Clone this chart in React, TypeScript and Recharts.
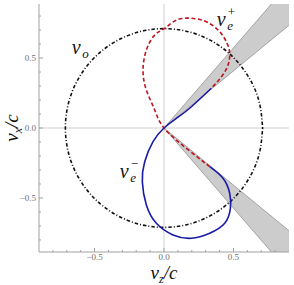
import React from "react";
import { Area, ComposedChart, ReferenceDot, ReferenceLine, Scatter, XAxis, YAxis } from "recharts";

// frame ticks (minor every 0.1, labelled majors)
const tickVals = [-0.8, -0.7, -0.6, -0.5, -0.4, -0.3, -0.2, -0.1, 0, 0.1, 0.2, 0.3, 0.4, 0.5, 0.6, 0.7, 0.8];
const majorVals = [-0.5, 0, 0.5];
const majorLabels = ["\u22120.5", "0.0", "0.5"];

// forbidden wedges: v_z and the [low, high] v_x bounds
const wedgeZ = [0, 0.9];
const upperLo = [0, 0.734];
const upperHi = [0, 1.031];
const lowerLo = [0, -1.031];
const lowerHi = [0, -0.734];

// v_o circle
const circleZ = [0.71, 0.686, 0.615, 0.502, 0.355, 0.184, 0, -0.184, -0.355, -0.502, -0.615, -0.686, -0.71, -0.686, -0.615, -0.502, -0.355, -0.184, 0, 0.184, 0.355, 0.502, 0.615, 0.686, 0.71];
const circleX = [0, 0.184, 0.355, 0.502, 0.615, 0.686, 0.71, 0.686, 0.615, 0.502, 0.355, 0.184, 0, -0.184, -0.355, -0.502, -0.615, -0.686, -0.71, -0.686, -0.615, -0.502, -0.355, -0.184, 0];

// v_e+ (red dashed)
const plusZ = [0.329, 0.161, 0, -0.067, -0.127, -0.151, -0.127, -0.067, 0.005, 0.089, 0.197, 0.305, 0.401, 0.454, 0.473, 0.461, 0.413, 0.341];
const plusX = [-0.276, -0.145, 0, 0.129, 0.271, 0.414, 0.557, 0.664, 0.712, 0.771, 0.784, 0.759, 0.688, 0.605, 0.534, 0.45, 0.366, 0.284];

// v_e- (blue solid)
const minusZ = [0.341, 0.185, 0.089, 0, -0.079, -0.139, -0.156, -0.127, -0.055, 0.065, 0.197, 0.329, 0.437, 0.478, 0.473, 0.425, 0.329];
const minusX = [0.284, 0.141, 0.069, 0, -0.098, -0.241, -0.384, -0.55, -0.681, -0.764, -0.788, -0.752, -0.681, -0.574, -0.466, -0.359, -0.276];

const FRAME = "#a0a0a0";
const TICK_FONT = "'Liberation Serif', 'Times New Roman', serif";
const MATH_FONT = "'Liberation Serif', 'Times New Roman', serif";

const wedgeData = wedgeZ.map((z, i) => ({
  x: z,
  up: [upperLo[i], upperHi[i]],
  lo: [lowerLo[i], lowerHi[i]],
}));
const pts = (zs: number[], xs: number[]) => zs.map((z, i) => ({ x: z, y: xs[i] }));

const majorIdx = (v: number) => majorVals.findIndex((m) => Math.abs(m - v) < 1e-6);

const BottomTick = (p: any) => {
  const i = majorIdx(p.payload.value);
  return (
    <g>
      <line x1={p.x} x2={p.x} y1={p.y} y2={p.y - (i >= 0 ? 4 : 2)} stroke={FRAME} />
      {i >= 0 && (
        <text x={p.x} y={p.y + 8} textAnchor="middle" fontSize={9} fill="#6f6f6f" fontFamily={TICK_FONT}>
          {majorLabels[i]}
        </text>
      )}
    </g>
  );
};
const TopTick = (p: any) => {
  const i = majorIdx(p.payload.value);
  return <line x1={p.x} x2={p.x} y1={p.y} y2={p.y + (i >= 0 ? 4 : 2)} stroke={FRAME} />;
};
const LeftTick = (p: any) => {
  const i = majorIdx(p.payload.value);
  return (
    <g>
      <line x1={p.x} x2={p.x + (i >= 0 ? 4 : 2)} y1={p.y} y2={p.y} stroke={FRAME} />
      {i >= 0 && (
        <text x={p.x - 3} y={p.y + 3} textAnchor="end" fontSize={9} fill="#6f6f6f" fontFamily={TICK_FONT}>
          {majorLabels[i]}
        </text>
      )}
    </g>
  );
};
const RightTick = (p: any) => {
  const i = majorIdx(p.payload.value);
  return <line x1={p.x} x2={p.x - (i >= 0 ? 4 : 2)} y1={p.y} y2={p.y} stroke={FRAME} />;
};

const noDot = () => <g />;

const mathLabel = (main: string, sub: string, sup?: string) => (p: any) => (
  <text x={p.cx} y={p.cy} fontFamily={MATH_FONT} fontStyle="italic" fontSize={20} fill="#111">
    {main}
    <tspan x={p.cx + 10.5} y={p.cy + 4} fontSize={13}>{sub}</tspan>
    {sup && (
      <tspan x={p.cx + 11} y={p.cy - 10} fontSize={13} fontStyle="normal">{sup}</tspan>
    )}
  </text>
);

const XLabel = (p: any) => {
  const vb = p.viewBox;
  return (
    <text x={vb.x + vb.width / 2} y={vb.y + 26.5} textAnchor="middle" fontFamily={MATH_FONT} fontStyle="italic" fontSize={19} fill="#111">
      v<tspan fontSize={12} dy={4}>z</tspan>
      <tspan dy={-4}>/c</tspan>
    </text>
  );
};
const YLabel = (p: any) => {
  const vb = p.viewBox;
  const cx = 17.5;
  const cy = vb.y + vb.height / 2;
  return (
    <text x={cx} y={cy} transform={`rotate(-90 ${cx} ${cy})`} textAnchor="middle" fontFamily={MATH_FONT} fontStyle="italic" fontSize={19} fill="#111">
      v<tspan fontSize={12} dy={4}>x</tspan>
      <tspan dy={-4}>/c</tspan>
    </text>
  );
};

export default function App() {
  return (
    <div style={{ position: "absolute", left: 0, top: 0, background: "#fff" }}>
      <ComposedChart width={294} height={285} data={wedgeData} margin={{ top: 4, right: 5, bottom: 0, left: 0 }}>
        <XAxis
          xAxisId="b"
          dataKey="x"
          type="number"
          domain={[-0.9, 0.9]}
          allowDataOverflow
          ticks={tickVals}
          interval={0}
          tickSize={0}
          tickMargin={0}
          tick={<BottomTick />}
          axisLine={{ stroke: FRAME }}
          height={33}
          label={{ content: <XLabel /> }}
        />
        <XAxis
          xAxisId="t"
          orientation="top"
          dataKey="x"
          type="number"
          domain={[-0.9, 0.9]}
          allowDataOverflow
          ticks={tickVals}
          interval={0}
          tickSize={0}
          tickMargin={0}
          tick={<TopTick />}
          axisLine={{ stroke: FRAME }}
          height={0}
        />
        <YAxis
          yAxisId="l"
          dataKey="y"
          type="number"
          domain={[-0.886, 0.886]}
          allowDataOverflow
          ticks={tickVals}
          interval={0}
          tickSize={0}
          tickMargin={0}
          tick={<LeftTick />}
          axisLine={{ stroke: FRAME }}
          width={39}
          label={{ content: <YLabel /> }}
        />
        <YAxis
          yAxisId="r"
          orientation="right"
          dataKey="y"
          type="number"
          domain={[-0.886, 0.886]}
          allowDataOverflow
          ticks={tickVals}
          interval={0}
          tickSize={0}
          tickMargin={0}
          tick={<RightTick />}
          axisLine={{ stroke: FRAME }}
          width={0}
        />
        <ReferenceLine xAxisId="b" yAxisId="l" x={0} stroke="#cfcfcf" />
        <ReferenceLine xAxisId="b" yAxisId="l" y={0} stroke="#cfcfcf" />
        <Area xAxisId="b" yAxisId="l" dataKey="up" type="linear" fill="#cccccc" fillOpacity={1} stroke="#8a8a8a" strokeWidth={0.7} dot={false} activeDot={false} isAnimationActive={false} />
        <Area xAxisId="b" yAxisId="l" dataKey="lo" type="linear" fill="#cccccc" fillOpacity={1} stroke="#8a8a8a" strokeWidth={0.7} dot={false} activeDot={false} isAnimationActive={false} />
        <Scatter
          xAxisId="b"
          yAxisId="l"
          data={pts(circleZ, circleX)}
          line={{ stroke: "#111", strokeWidth: 1.6, strokeDasharray: "1 2 3.5 2" }}
          lineJointType="natural"
          shape={noDot}
          isAnimationActive={false}
        />
        <Scatter
          xAxisId="b"
          yAxisId="l"
          data={pts(plusZ, plusX)}
          line={{ stroke: "#c0141c", strokeWidth: 1.6, strokeDasharray: "4 2.5" }}
          lineJointType="natural"
          shape={noDot}
          isAnimationActive={false}
        />
        <Scatter
          xAxisId="b"
          yAxisId="l"
          data={pts(minusZ, minusX)}
          line={{ stroke: "#1a1aa8", strokeWidth: 1.6 }}
          lineJointType="natural"
          shape={noDot}
          isAnimationActive={false}
        />
        <ReferenceDot xAxisId="b" yAxisId="l" x={-0.665} y={0.529} r={0} shape={mathLabel("v", "o")} />
        <ReferenceDot xAxisId="b" yAxisId="l" x={0.379} y={0.729} r={0} shape={mathLabel("v", "e", "+")} />
        <ReferenceDot xAxisId="b" yAxisId="l" x={-0.318} y={-0.359} r={0} shape={mathLabel("v", "e", "\u2212")} />
      </ComposedChart>
    </div>
  );
}
